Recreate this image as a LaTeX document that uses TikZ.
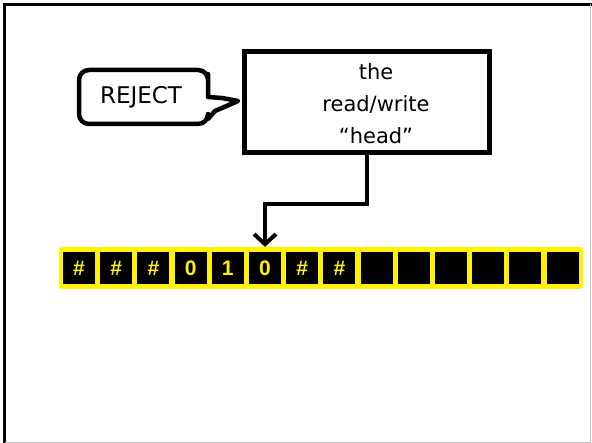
\documentclass[tikz,border=0pt]{standalone}
\usepackage{fontspec}
\setmainfont{DejaVu Sans}
\newfontfamily\tapefont{Liberation Sans}
\usetikzlibrary{arrows.meta}

\tikzset{
  cell/.style={fill=black, minimum size=32pt, inner sep=0pt, text=yellow,
    font=\tapefont\bfseries\fontsize{21}{21}\selectfont},
  headbox/.style={draw, line width=5pt, minimum width=245pt, minimum height=101pt},
  callout/.style={draw, line width=4.5pt, line join=round},
  pointer/.style={draw, line width=4pt, -{Straight Barb[length=10pt,width=22pt]}},
}

\begin{document}
\begin{tikzpicture}[x=1pt,y=-1pt]
  \useasboundingbox (0,0) rectangle (592,443);
  \draw[line width=3pt] (4.5,443) -- (4.5,4.5) -- (592,4.5);
  \draw[gray!50, line width=1pt] (590.5,4.5) -- (590.5,442.5) -- (4.5,442.5);

  % the tape
  \fill[yellow, rounded corners=3pt] (59,247) rectangle (583,289);
  \foreach \s [count=\i from 0] in {\#,\#,\#,0,1,0,\#,\#}
    \node[cell] (c\i) at ({79+37.2*\i},268) {\s};
  \foreach \i in {8,...,13}
    \node[cell] (c\i) at ({79+37.2*\i},268) {};

  % head and its state
  \node[headbox] (head) at (366.5,102.5) {};
  \node[align=center, font=\fontsize{21}{32}\selectfont] (headtext) at (376,104)
    {the\\read/write\\``head''};
  \draw[callout] (208,84) -- (208,97) -- (222,98) -- (238,101) -- (215,111) -- (208,119)
    [rounded corners=10pt] -- (208,124) -- (79,124) -- (79,70) -- (208,70) -- cycle;
  \node[font=\fontsize{23}{23}\selectfont] (reject) at (141,97) {REJECT};

  \draw[pointer] (head.south) -- ++(0,49) -| ([yshift=5pt]c5.north);
\end{tikzpicture}
\end{document}
